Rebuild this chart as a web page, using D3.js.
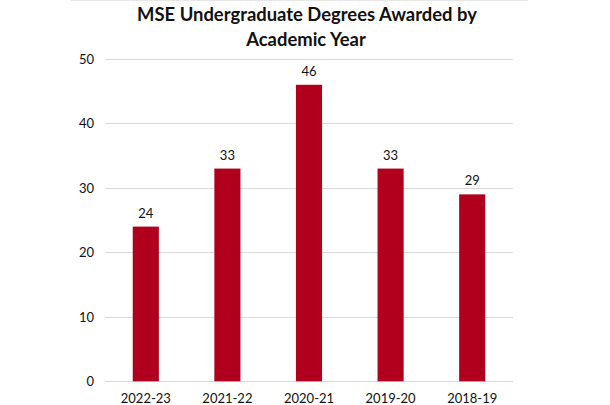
<!DOCTYPE html>
<html>
<head>
<meta charset="utf-8">
<script src="https://cdn.jsdelivr.net/npm/d3@7"></script>
<style>
  html, body { margin: 0; padding: 0; background: #ffffff; }
  svg { display: block; }
  text { font-family: Lato, "Open Sans", "Liberation Sans", sans-serif; fill: #111; }
</style>
</head>
<body>
<div id="chart"></div>
<script>
const categories = ["2022-23", "2021-22", "2020-21", "2019-20", "2018-19"];
const values = [24, 33, 46, 33, 29];
const yTicks = [0, 10, 20, 30, 40, 50];
const titleLines = ["MSE Undergraduate Degrees Awarded by", "Academic Year"];

const W = 610, H = 405;
const margin = { left: 105, right: 97, top: 59, bottom: 24 };
const svg = d3.select("#chart").append("svg").attr("width", W).attr("height", H);

// faint top border line
svg.append("line").attr("x1", 71).attr("x2", 528).attr("y1", 0.5).attr("y2", 0.5)
  .attr("stroke", "#e6e6e6").attr("stroke-width", 1);

const x = d3.scaleBand().domain(categories)
  .range([margin.left, W - margin.right]).paddingInner(0.68).paddingOuter(0.34);
const y = d3.scaleLinear().domain([0, 50]).range([H - margin.bottom + 0.3, margin.top]);

// gridlines
svg.append("g").selectAll("line").data(yTicks).join("line")
  .attr("x1", margin.left).attr("x2", W - margin.right)
  .attr("y1", d => Math.round(y(d)) + 0.5).attr("y2", d => Math.round(y(d)) + 0.5)
  .attr("stroke", "#d9d9d9").attr("stroke-width", 1);

// y axis labels
const yAxis = d3.axisLeft(y).tickValues(yTicks).tickSize(0).tickPadding(0);
const gy = svg.append("g").attr("transform", `translate(${margin.left - 11},0)`).call(yAxis);
gy.select(".domain").remove();
gy.selectAll("text").style("font-size", "13px").attr("fill", "#111")
  .style("font-family", "Lato, 'Open Sans', sans-serif");

// bars
svg.append("g").selectAll("rect").data(values).join("rect")
  .attr("x", (d, i) => x(categories[i]))
  .attr("width", x.bandwidth())
  .attr("y", d => y(d))
  .attr("height", d => y(0) - y(d))
  .attr("fill", "#b0001e");

// value labels
svg.append("g").selectAll("text").data(values).join("text")
  .attr("x", (d, i) => x(categories[i]) + x.bandwidth() / 2)
  .attr("y", d => y(d) - 9)
  .attr("text-anchor", "middle")
  .style("font-size", "13px")
  .text(d => d);

// x axis labels
const xAxis = d3.axisBottom(x).tickSize(0).tickPadding(0);
const gx = svg.append("g").attr("transform", `translate(0,${y(0) + 12})`).call(xAxis);
gx.select(".domain").remove();
gx.selectAll("text").style("font-size", "13px").attr("fill", "#111")
  .style("font-family", "Lato, 'Open Sans', sans-serif");

// title
const title = svg.append("g");
const t1 = title.append("text").attr("x", 307).attr("y", 21).attr("text-anchor", "middle")
  .style("font-size", "19px").style("font-weight", "bold").text(titleLines[0]);
const t2 = title.append("text").attr("x", 306).attr("y", 46).attr("text-anchor", "middle")
  .style("font-size", "19px").style("font-weight", "bold").text(titleLines[1]);
// fit first line to reference width
const w1 = t1.node().getComputedTextLength();
const fs = 19 * 340 / w1;
t1.style("font-size", fs + "px");
t2.style("font-size", fs + "px");
</script>
</body>
</html>
